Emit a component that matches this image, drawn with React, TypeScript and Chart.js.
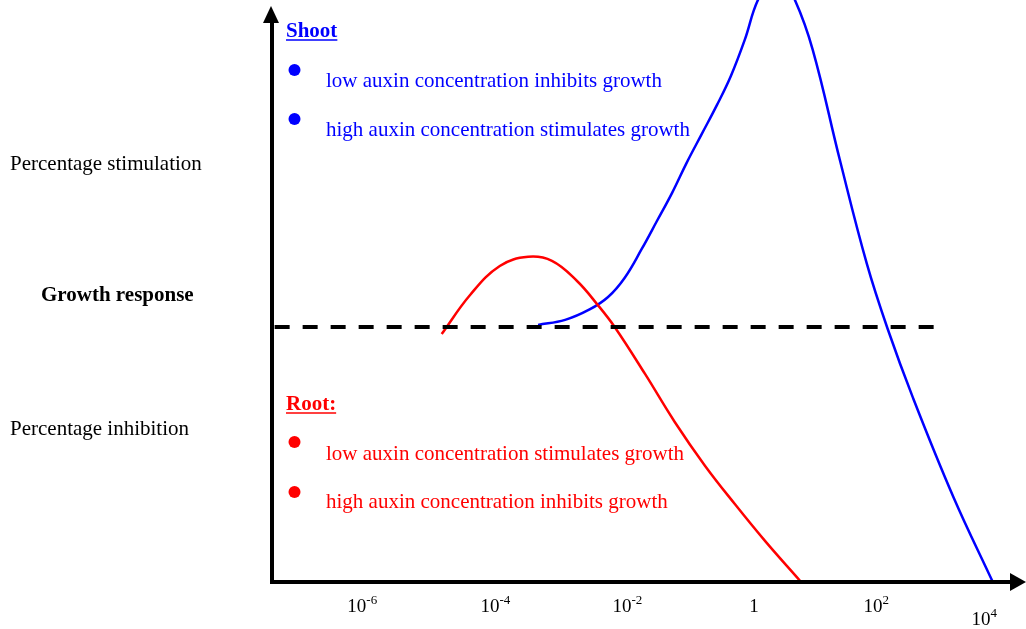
import React, { useEffect, useRef } from "react";
import { Chart, registerables } from "chart.js";

Chart.register(...registerables);

// x = log10(auxin concentration), y = growth response (% stimulation > 0, % inhibition < 0)
const rootX = [-4.73, -4.3, -3.85, -3.42, -3.06, -2.68, -2.38, -2.11, -1.65, -1.2, -0.74, -0.29, 0.17, 0.7];
const rootY = [-2.8, 12.6, 24.0, 27.6, 26.0, 18.1, 9.1, 0, -18.5, -37.4, -54.7, -69.7, -84.3, -100];

const shootX = [-3.27, -2.86, -2.49, -2.21, -1.96, -1.7, -1.47, -1.24, -1.02, -0.79, -0.56, -0.35, -0.14, 0.06, 0.35, 0.62, 0.89, 1.3, 1.71, 2.02, 2.41, 3.02, 3.61];
const shootY = [0.8, 2.8, 6.9, 11.8, 19.3, 30.7, 41.7, 52.8, 64.6, 76.0, 87.4, 98.8, 113.0, 128.7, 140.6, 128.7, 109.1, 65.8, 24.8, -0.4, -28.0, -66.9, -100];

const baselineX = [-7.26, 2.74];
const baselineY = [0, 0];

const tickExponents = [-6, -4, -2, 0, 2, 4];
const tickBase = ["10", "10", "10", "1", "10", "10"];
const tickSup = ["-6", "-4", "-2", "", "2", "4"];

const yAxisTop = "Percentage stimulation";
const yAxisMid = "Growth response";
const yAxisBottom = "Percentage inhibition";
const shootTitle = "Shoot";
const shootNotes = ["low auxin concentration inhibits growth", "high auxin concentration stimulates growth"];
const rootTitle = "Root:";
const rootNotes = ["low auxin concentration stimulates growth", "high auxin concentration inhibits growth"];

const toPoints = (xs: number[], ys: number[]) => xs.map((x, i) => ({ x, y: ys[i] }));

const SERIF = "'Liberation Serif', 'Times New Roman', serif";

const decorPlugin = {
  id: "decor",
  afterDraw(chart: any) {
    const ctx = chart.ctx as CanvasRenderingContext2D;
    const area = chart.chartArea;
    const xs = chart.scales.x;
    ctx.save();

    // axes
    ctx.strokeStyle = "#000";
    ctx.fillStyle = "#000";
    ctx.lineWidth = 4;
    ctx.lineCap = "butt";
    const ax = area.left;
    const ay = area.bottom + 1;
    ctx.beginPath();
    ctx.moveTo(ax, ay + 2);
    ctx.lineTo(ax, 20);
    ctx.stroke();
    ctx.beginPath();
    ctx.moveTo(ax - 2, ay);
    ctx.lineTo(1012, ay);
    ctx.stroke();
    // arrow heads
    ctx.beginPath();
    ctx.moveTo(ax - 1, 6);
    ctx.lineTo(ax - 9, 23);
    ctx.lineTo(ax + 7, 23);
    ctx.closePath();
    ctx.fill();
    ctx.beginPath();
    ctx.moveTo(1026, ay);
    ctx.lineTo(1010, ay - 9);
    ctx.lineTo(1010, ay + 9);
    ctx.closePath();
    ctx.fill();

    // tick labels
    const nudges = [
      { dx: -1, dy: 0 },
      { dx: 0, dy: 0 },
      { dx: 0, dy: 0 },
      { dx: 0, dy: 0 },
      { dx: -13, dy: 0 },
      { dx: -37, dy: 13 },
    ];
    ctx.fillStyle = "#000";
    ctx.textBaseline = "alphabetic";
    ctx.textAlign = "left";
    tickExponents.forEach((e, i) => {
      const px = xs.getPixelForValue(e) + nudges[i].dx;
      const by = 612 + nudges[i].dy;
      ctx.font = `19px ${SERIF}`;
      const wb = ctx.measureText(tickBase[i]).width;
      ctx.fillText(tickBase[i], px - wb / 2, by);
      if (tickSup[i]) {
        ctx.font = `13px ${SERIF}`;
        ctx.fillText(tickSup[i], px + wb / 2, by - 8);
      }
    });

    // y-axis descriptions
    ctx.font = `21px ${SERIF}`;
    ctx.fillText(yAxisTop, 10, 170);
    ctx.fillText(yAxisBottom, 10, 435);
    ctx.font = `bold 21px ${SERIF}`;
    ctx.fillText(yAxisMid, 41, 301);

    const block = (title: string, notes: string[], color: string, titleY: number, noteYs: number[], dotYs: number[]) => {
      ctx.fillStyle = color;
      ctx.strokeStyle = color;
      ctx.font = `bold 21px ${SERIF}`;
      ctx.fillText(title, 286, titleY);
      const tw = ctx.measureText(title).width;
      ctx.lineWidth = 1.6;
      ctx.beginPath();
      ctx.moveTo(286, titleY + 3);
      ctx.lineTo(286 + tw, titleY + 3);
      ctx.stroke();
      ctx.font = `21px ${SERIF}`;
      notes.forEach((n, i) => {
        ctx.beginPath();
        ctx.arc(294.5, dotYs[i], 6, 0, Math.PI * 2);
        ctx.fill();
        ctx.fillText(n, 326, noteYs[i]);
      });
    };
    block(shootTitle, shootNotes, "#0000FF", 37, [87, 136], [70, 119]);
    block(rootTitle, rootNotes, "#FF0000", 410, [460, 508], [442, 492]);

    ctx.restore();
  },
};

export default function App() {
  const ref = useRef<HTMLCanvasElement | null>(null);
  useEffect(() => {
    document.body.style.margin = "0";
    const chart = new Chart(ref.current as HTMLCanvasElement, {
      type: "line",
      data: {
        datasets: [
          {
            label: "Baseline",
            data: toPoints(baselineX, baselineY),
            borderColor: "#000",
            borderWidth: 4,
            borderDash: [15, 13],
            pointRadius: 0,
            tension: 0,
          },
          {
            label: "Root",
            data: toPoints(rootX, rootY),
            borderColor: "#FF0000",
            borderWidth: 2.5,
            pointRadius: 0,
            tension: 0.4,
          },
          {
            label: "Shoot",
            data: toPoints(shootX, shootY),
            borderColor: "#0000FF",
            borderWidth: 2.5,
            pointRadius: 0,
            tension: 0.4,
          },
        ],
      },
      options: {
        responsive: false,
        animation: false,
        devicePixelRatio: 1,
        layout: { padding: { left: 272, right: 0, top: 0, bottom: 48 } },
        plugins: { legend: { display: false }, tooltip: { enabled: false }, title: { display: false } },
        scales: {
          x: { type: "linear", min: -7.3, max: 4.12, display: false },
          y: { type: "linear", min: -100, max: 128.7, display: false },
        },
      },
      plugins: [decorPlugin],
    } as any);
    return () => chart.destroy();
  }, []);
  return (
    <div style={{ position: "absolute", left: 0, top: 0, width: 1026, height: 629, background: "#fff" }}>
      <canvas ref={ref} width={1026} height={629} />
    </div>
  );
}
